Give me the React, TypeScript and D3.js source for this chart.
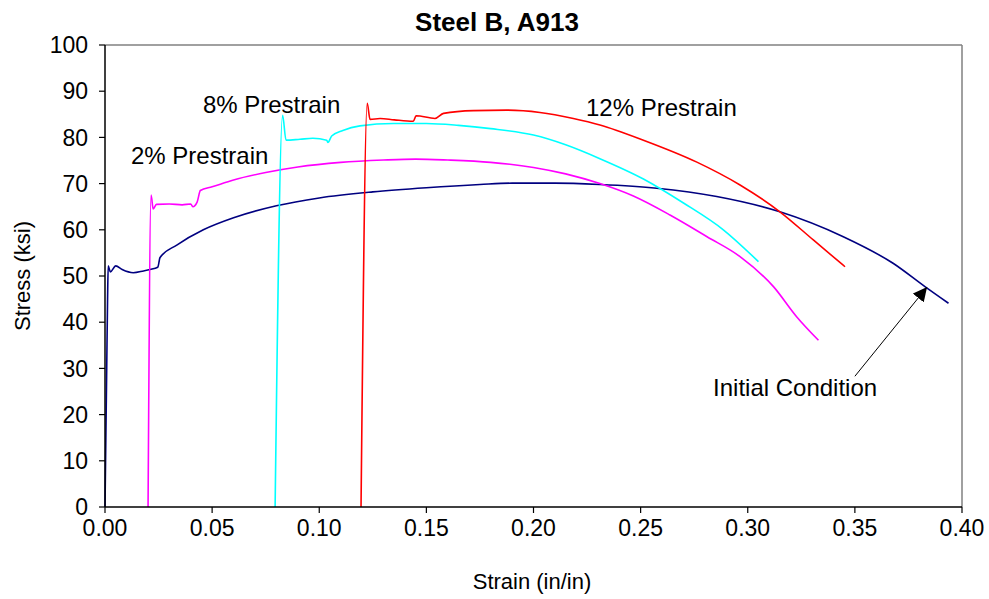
import React from "react";
import * as d3 from "d3";

const xTicks = [0, 0.05, 0.1, 0.15, 0.2, 0.25, 0.3, 0.35, 0.4];
const yTicks = [0, 10, 20, 30, 40, 50, 60, 70, 80, 90, 100];

const initialStrain = [0, 0.0008, 0.0012, 0.0015, 0.0025, 0.005, 0.008, 0.0132, 0.018, 0.021, 0.0246, 0.0257, 0.0335, 0.0459, 0.06, 0.08, 0.1, 0.125, 0.15, 0.175, 0.19, 0.21, 0.231, 0.2575, 0.2855, 0.315, 0.3446, 0.368, 0.3827, 0.3937];
const initialStress = [0, 30, 45, 52.2, 50.9, 52.2, 51.4, 50.7, 51.1, 51.4, 51.9, 54.0, 56.7, 60.0, 62.6, 65.2, 66.9, 68.2, 69.1, 69.8, 70.1, 70.1, 69.8, 69.0, 67.2, 63.9, 58.5, 52.7, 47.7, 44.1];

const pre2Strain = [0.0201, 0.0215, 0.0225, 0.024, 0.03, 0.036, 0.04, 0.041, 0.043, 0.0445, 0.05, 0.06, 0.075, 0.09, 0.11, 0.13, 0.145, 0.16, 0.18, 0.2, 0.215, 0.231, 0.2466, 0.2637, 0.281, 0.2964, 0.312, 0.3228, 0.333];
const pre2Stress = [0, 67.5, 64.5, 65.5, 65.6, 65.4, 65.6, 65.0, 66.0, 68.5, 69.3, 70.8, 72.4, 73.6, 74.6, 75.1, 75.3, 75.1, 74.6, 73.5, 72.1, 70.0, 67.3, 63.2, 58.5, 54.2, 47.7, 41.2, 36.1];

const pre8Strain = [0.0794, 0.0829, 0.0845, 0.091, 0.097, 0.1035, 0.104, 0.1058, 0.111, 0.119, 0.1346, 0.15, 0.165, 0.18, 0.2, 0.215, 0.231, 0.2513, 0.27, 0.2886, 0.305];
const pre8Stress = [0, 84.8, 79.4, 79.6, 79.8, 79.4, 78.9, 80.3, 81.5, 82.5, 83.0, 83.0, 82.6, 81.9, 80.5, 78.4, 75.4, 71.0, 65.8, 60.0, 53.1];

const pre12Strain = [0.1195, 0.1224, 0.1237, 0.1284, 0.135, 0.1439, 0.1452, 0.154, 0.158, 0.172, 0.1875, 0.203, 0.2186, 0.231, 0.2513, 0.276, 0.2964, 0.315, 0.3306, 0.3454];
const pre12Stress = [0, 87.4, 83.9, 84.1, 83.8, 83.5, 84.7, 84.1, 85.2, 85.8, 85.9, 85.4, 84.1, 82.7, 79.4, 74.7, 69.7, 63.9, 57.8, 52.0];

const seriesNames = ["Initial Condition", "2% Prestrain", "8% Prestrain", "12% Prestrain"];
const seriesColors = ["#000080", "#FF00FF", "#00FFFF", "#FF0000"];

const W = 989;
const H = 599;
const m = { left: 105, right: 27, top: 45, bottom: 92 };
const FONT = "Arial, 'Liberation Sans', Helvetica, sans-serif";

export default function App() {
  const x = d3.scaleLinear().domain([0, 0.4]).range([m.left, W - m.right]);
  const y = d3.scaleLinear().domain([0, 100]).range([H - m.bottom, m.top]);
  const line = d3
    .line<[number, number]>()
    .x((d) => x(d[0]))
    .y((d) => y(d[1]))
    .curve(d3.curveMonotoneX);

  const series = [
    d3.zip(initialStrain, initialStress),
    d3.zip(pre2Strain, pre2Stress),
    d3.zip(pre8Strain, pre8Stress),
    d3.zip(pre12Strain, pre12Stress),
  ] as [number, number][][];

  const labelPos: [number, number][] = [
    [0.2838, 24.0],
    [0.0121, 74.2],
    [0.0457, 85.2],
    [0.2245, 84.6],
  ];

  const arrowTail: [number, number] = [0.35, 28.3];
  const arrowHead: [number, number] = [0.3837, 47.6];

  const x0 = x(0.4);
  const yb = y(0);
  const yt = y(100);

  return (
    <svg
      width={W}
      height={H}
      style={{ position: "absolute", left: 0, top: 0, background: "#fff" }}
      fontFamily={FONT}
    >
      <defs>
        <marker id="ah" viewBox="0 0 10 10" refX="10" refY="5" markerWidth="14" markerHeight="14" markerUnits="userSpaceOnUse" orient="auto">
          <path d="M0,0 L10,5 L0,10 z" fill="#000" />
        </marker>
      </defs>
      <rect x={0} y={0} width={W} height={H} fill="#fff" />
      <line x1={x(0)} x2={x0} y1={yt} y2={yt} stroke="#808080" strokeWidth={1.5} />
      <line x1={x0} x2={x0} y1={yt} y2={yb} stroke="#808080" strokeWidth={1.5} />

      {series.map((s, i) => (
        <path key={i} d={line(s) || ""} fill="none" stroke={seriesColors[i]} strokeWidth={1.6} strokeLinejoin="round" />
      ))}

      <line x1={x(0)} x2={x(0)} y1={yt} y2={yb} stroke="#000" strokeWidth={1.5} />
      <line x1={x(0)} x2={x0} y1={yb} y2={yb} stroke="#000" strokeWidth={1.5} />
      {yTicks.map((t) => (
        <g key={"y" + t}>
          <line x1={x(0) - 6} x2={x(0)} y1={y(t)} y2={y(t)} stroke="#000" strokeWidth={1.2} />
          <text x={x(0) - 17} y={y(t)} dy="0.36em" textAnchor="end" fontSize={23}>
            {t}
          </text>
        </g>
      ))}
      {xTicks.map((t) => (
        <g key={"x" + t}>
          <line x1={x(t)} x2={x(t)} y1={yb} y2={yb + 6} stroke="#000" strokeWidth={1.2} />
          <text x={x(t)} y={yb + 29} textAnchor="middle" fontSize={23}>
            {t.toFixed(2)}
          </text>
        </g>
      ))}

      <text x={497} y={31} textAnchor="middle" fontSize={26} fontWeight="bold">
        Steel B, A913
      </text>
      <text x={532} y={589} textAnchor="middle" fontSize={22}>
        Strain (in/in)
      </text>
      <text transform={`translate(30,${(yt + yb) / 2}) rotate(-90)`} textAnchor="middle" fontSize={22}>
        Stress (ksi)
      </text>

      {labelPos.map((p, i) => (
        <text key={"l" + i} x={x(p[0])} y={y(p[1])} fontSize={24}>
          {seriesNames[i]}
        </text>
      ))}
      <line
        x1={x(arrowTail[0])}
        y1={y(arrowTail[1])}
        x2={x(arrowHead[0])}
        y2={y(arrowHead[1])}
        stroke="#000"
        strokeWidth={1}
        markerEnd="url(#ah)"
      />
    </svg>
  );
}
